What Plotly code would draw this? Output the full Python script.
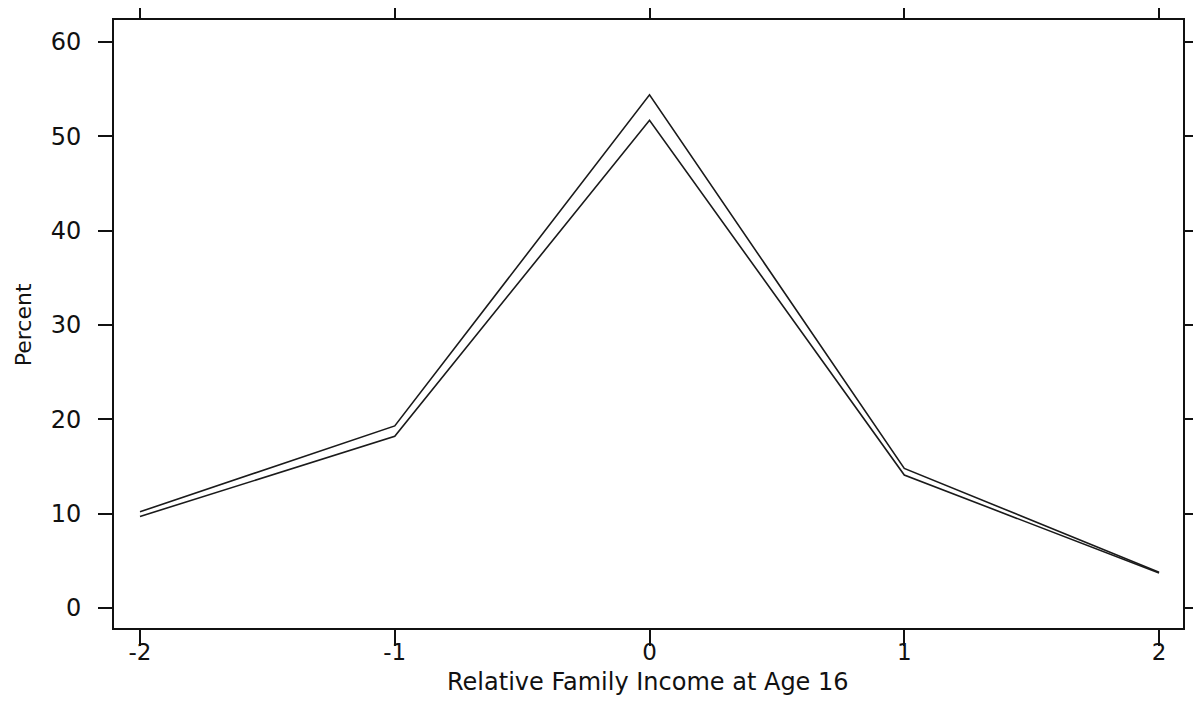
import plotly.graph_objects as go

income = [-2, -1, 0, 1, 2]
series_a = [10.2, 19.3, 54.4, 14.8, 3.8]
series_b = [9.7, 18.2, 51.7, 14.1, 3.7]
x_ticks = [-2, -1, 0, 1, 2]
y_ticks = [0, 10, 20, 30, 40, 50, 60]

fig = go.Figure()
for ys in (series_a, series_b):
    fig.add_trace(go.Scatter(x=income, y=ys, mode="lines",
                             line=dict(color="#1a1a1a", width=1.6),
                             showlegend=False, hoverinfo="skip"))

font = dict(family="DejaVu Sans, Liberation Sans, sans-serif", color="#111111")
axis_common = dict(showline=True, linecolor="#111111", linewidth=1.6,
                   mirror="ticks", ticks="outside", tickcolor="#111111",
                   tickwidth=1.6, showgrid=False, zeroline=False, automargin=False)

fig.update_xaxes(range=[-2.102, 2.094], tickvals=x_ticks,
                 ticktext=[str(v) for v in x_ticks], ticklen=16,
                 ticklabelstandoff=-13,
                 tickfont=dict(size=23, **font), **axis_common)
fig.update_yaxes(range=[-2.12, 62.33], tickvals=y_ticks,
                 ticktext=[str(v) for v in y_ticks], ticklen=14,
                 ticklabelstandoff=12,
                 tickfont=dict(size=24, **font), **axis_common)

fig.add_annotation(text="Relative Family Income at Age 16", xref="paper", yref="paper",
                   x=0.4995, y=-0.088, showarrow=False, xanchor="center", yanchor="middle",
                   font=dict(size=24, **font))
fig.add_annotation(text="Percent", xref="paper", yref="paper",
                   x=-0.0851, y=0.498, showarrow=False, xanchor="center", yanchor="middle",
                   textangle=-90, font=dict(size=22, **font))

fig.update_layout(template="none", width=1201, height=702,
                  margin=dict(l=106, r=26, t=12, b=82, autoexpand=False),
                  plot_bgcolor="white", paper_bgcolor="white")

fig.write_html("out.html")
